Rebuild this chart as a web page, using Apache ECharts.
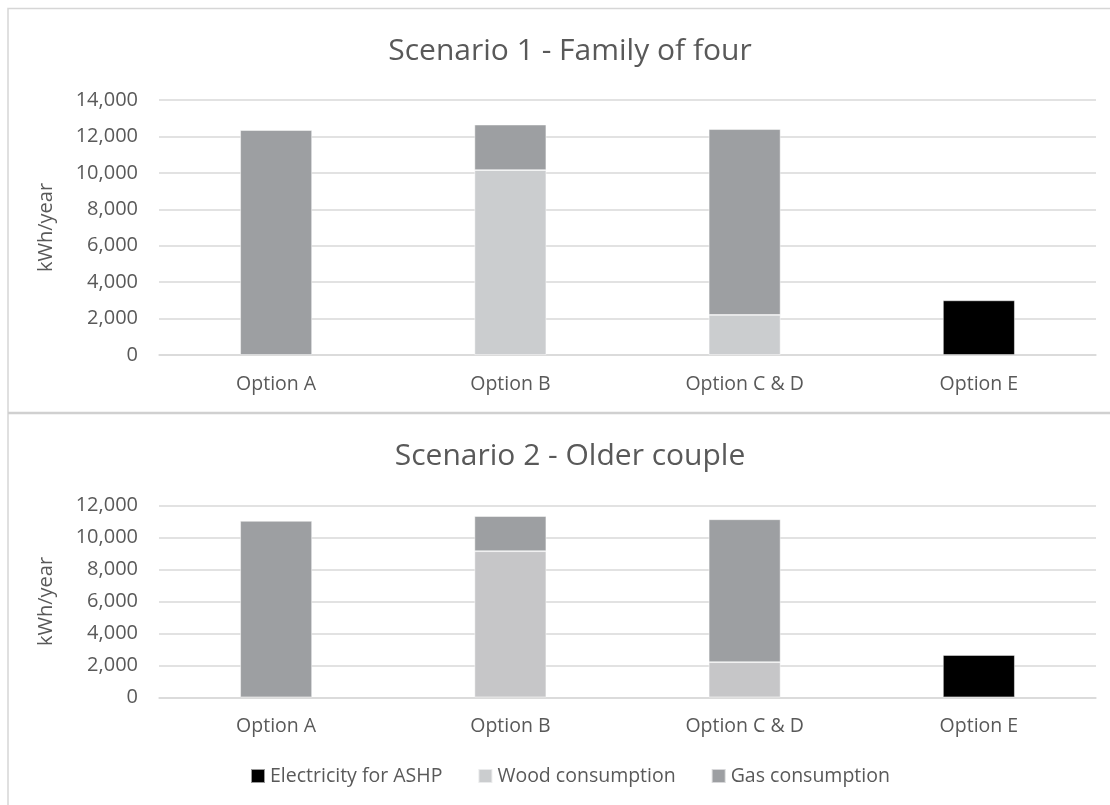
<!DOCTYPE html>
<html>
<head>
<meta charset="utf-8">
<script src="https://cdn.jsdelivr.net/npm/echarts@6/dist/echarts.min.js"></script>
<style>
  html, body { margin: 0; padding: 0; background: #fff; }
  #chart { width: 1110px; height: 805px; }
</style>
</head>
<body>
<div id="chart"></div>
<script>
// Heating options compared for two households (kWh per year)
const categories = ['Option A', 'Option B', 'Option C & D', 'Option E'];

// Scenario 1 - Family of four
const s1Electricity = [null, null, null, 3000];
const s1Wood        = [null, 10150, 2200, null];
const s1Gas         = [12350, 2500, 10200, null];
const s1Ticks = { min: 0, max: 14000, interval: 2000 };

// Scenario 2 - Older couple
const s2Electricity = [null, null, null, 2650];
const s2Wood        = [null, 9150, 2200, null];
const s2Gas         = [11050, 2200, 8950, null];
const s2Ticks = { min: 0, max: 12000, interval: 2000 };

const seriesNames = ['Electricity for ASHP', 'Wood consumption', 'Gas consumption'];
const titles = ['Scenario 1 - Family of four', 'Scenario 2 - Older couple'];
const axisName = 'kWh/year';

const FONT = '"Open Sans", "DejaVu Sans", sans-serif';
const TEXT = '#595959';
const GRID = '#d9d9d9';
const COLORS = { elec: '#000000', wood: '#cbcdcf', wood2: '#c6c6c8', gas: '#9d9fa2' };

const fmt = v => v.toLocaleString('en-US');

function xAxis(gi) {
  return {
    type: 'category', gridIndex: gi, data: categories,
    axisLine: { show: true, lineStyle: { color: GRID, width: 1.5 } },
    axisTick: { show: false },
    axisLabel: { color: TEXT, fontFamily: FONT, fontSize: 19.5, margin: 19 }
  };
}
function yAxis(gi, t) {
  return {
    type: 'value', gridIndex: gi, min: t.min, max: t.max, interval: t.interval,
    name: axisName, nameLocation: 'middle', nameGap: 103, nameRotate: 90,
    nameTextStyle: { color: TEXT, fontFamily: FONT, fontSize: 20 },
    axisLine: { show: false }, axisTick: { show: false },
    axisLabel: { color: TEXT, fontFamily: FONT, fontSize: 20, margin: 21, formatter: fmt },
    splitLine: { lineStyle: { color: GRID, width: 1.5 } }
  };
}
function bar(name, data, gi, color, stack) {
  return {
    type: 'bar', name, data, xAxisIndex: gi, yAxisIndex: gi, stack,
    barWidth: '30.7%',
    itemStyle: { color, borderColor: 'rgba(255,255,255,0.6)', borderWidth: 0.8 },
    emphasis: { disabled: true }
  };
}

const chart = echarts.init(document.getElementById('chart'), null, { renderer: 'canvas' });
chart.setOption({
  backgroundColor: '#ffffff',
  animation: false,
  title: titles.map((t, i) => ({
    text: t, left: 565, textAlign: 'center', top: i === 0 ? 31 : 436,
    textStyle: { color: TEXT, fontFamily: FONT, fontSize: 30, fontWeight: 'normal' }
  })),
  legend: {
    data: seriesNames, bottom: 14, left: 245,
    itemWidth: 14, itemHeight: 14, itemGap: 35, icon: 'rect',
    textStyle: { color: TEXT, fontFamily: FONT, fontSize: 19.5 }
  },
  grid: [
    { left: 159, right: 14, top: 100, height: 255 },
    { left: 159, right: 14, top: 505.7, height: 191.6 }
  ],
  xAxis: [xAxis(0), xAxis(1)],
  yAxis: [yAxis(0, s1Ticks), yAxis(1, s2Ticks)],
  series: [
    bar(seriesNames[0], s1Electricity, 0, COLORS.elec, 's1'),
    bar(seriesNames[1], s1Wood, 0, COLORS.wood, 's1'),
    bar(seriesNames[2], s1Gas, 0, COLORS.gas, 's1'),
    bar(seriesNames[0], s2Electricity, 1, COLORS.elec, 's2'),
    bar(seriesNames[1], s2Wood, 1, COLORS.wood2, 's2'),
    bar(seriesNames[2], s2Gas, 1, COLORS.gas, 's2')
  ],
  graphic: [
    // outer frame (top and left edges) and the divider between the two panels
    { type: 'polyline', silent: true, shape: { points: [[8, 805], [8, 8.5], [1110, 8.5]] },
      style: { stroke: '#d6d6d6', lineWidth: 1.5, fill: null } },
    { type: 'line', silent: true, shape: { x1: 8, y1: 413, x2: 1110, y2: 413 },
      style: { stroke: '#d0d0d0', lineWidth: 2.5 } }
  ]
});
</script>
</body>
</html>
